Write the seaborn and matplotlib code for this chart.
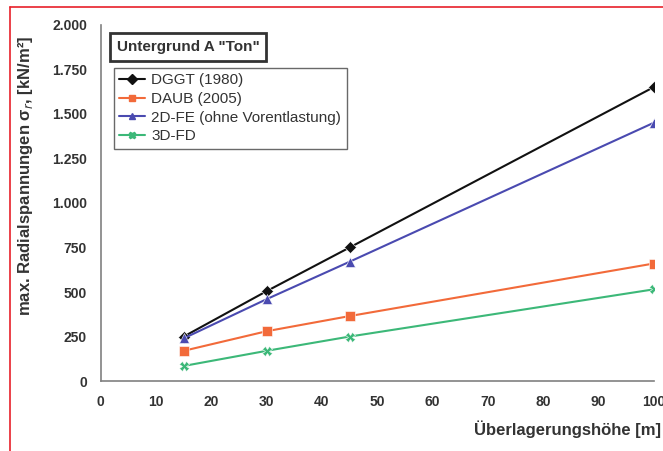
import numpy as np
import pandas as pd
import matplotlib
matplotlib.use('Agg')
import matplotlib.pyplot as plt
from matplotlib.lines import Line2D
from matplotlib.ticker import FuncFormatter
import seaborn as sns

# values
hoehe = [15, 30, 45, 100]
series_names = ['DGGT (1980)', 'DAUB (2005)', '2D-FE (ohne Vorentlastung)', '3D-FD']
dggt = [250, 505, 750, 1650]
daub = [170, 280, 365, 660]
fe_2d = [240, 460, 670, 1450]
fd_3d = [85, 170, 250, 515]
y_ticks = [0, 250, 500, 750, 1000, 1250, 1500, 1750, 2000]
x_ticks = [0, 10, 20, 30, 40, 50, 60, 70, 80, 90, 100]

colors = ['#111111', '#f26a3a', '#4a4ab0', '#3cb878']
markers = ['D', 's', '^', 'X']

df = pd.DataFrame({
    'x': hoehe * 4,
    'y': dggt + daub + fe_2d + fd_3d,
    'serie': [n for n in series_names for _ in hoehe],
})

sns.set_style('white')
plt.rcParams['font.family'] = ['Liberation Sans', 'DejaVu Sans']

fig = plt.figure(figsize=(6.63, 4.51), dpi=100)
ax = fig.add_axes([0.152, 0.155, 0.834, 0.790])

sns.lineplot(data=df, x='x', y='y', hue='serie', style='serie',
             palette=colors, markers=markers, dashes=False,
             markersize=6.5, linewidth=1.5, markeredgewidth=0.4,
             ax=ax, legend=False)

ax.set_xlim(0, 100)
ax.set_ylim(0, 2000)
ax.set_xticks(x_ticks)
ax.set_yticks(y_ticks)
ax.yaxis.set_major_formatter(FuncFormatter(lambda v, p: f'{int(v):,}'.replace(',', '.')))
for s in ['top', 'right']:
    ax.spines[s].set_visible(False)
for s in ['left', 'bottom']:
    ax.spines[s].set_color('#808080')
    ax.spines[s].set_linewidth(1.2)
ax.tick_params(direction='out', length=3, color='#808080', labelsize=10, pad=7)
for lbl in ax.get_xticklabels() + ax.get_yticklabels():
    lbl.set_fontweight('bold')
    lbl.set_color('#333333')

ax.set_xlabel('Überlagerungshöhe [m]', fontsize=12, fontweight='bold', color='#333333',
              ha='right', va='center')
ax.xaxis.set_label_coords(1.014, -0.135)
ax.set_ylabel('max. Radialspannungen σ$_r$, [kN/m²]', fontsize=12, fontweight='bold',
              color='#333333', va='center')
ax.yaxis.set_label_coords(-0.136, 0.575)

handles = [Line2D([], [], color=c, marker=m, markersize=5, linewidth=1.5)
           for c, m in zip(colors, markers)]
leg = ax.legend(handles, series_names, loc='upper left', bbox_to_anchor=(0.01, 0.9),
                fontsize=11, frameon=True, fancybox=False, handlelength=1.7,
                borderpad=0.35, labelspacing=0.3, handletextpad=0.4)
leg.get_frame().set_edgecolor('#444444')
leg.get_frame().set_linewidth(1.0)
for t in leg.get_texts():
    t.set_color('#333333')

ax.text(0.029, 0.937, 'Untergrund A "Ton"', transform=ax.transAxes, fontsize=11,
        fontweight='bold', color='#333333', va='center', ha='left',
        bbox=dict(boxstyle='square,pad=0.45', fc='white', ec='#333333', lw=2.0))

# red frame lines of the original scan
fig.add_artist(Line2D([10 / 663, 10 / 663], [0, 1 - 7 / 451], color='#e8202a', lw=1.2))
fig.add_artist(Line2D([10 / 663, 1], [1 - 7 / 451, 1 - 7 / 451], color='#e8202a', lw=1.2))

fig.savefig('out.png', dpi=100)
